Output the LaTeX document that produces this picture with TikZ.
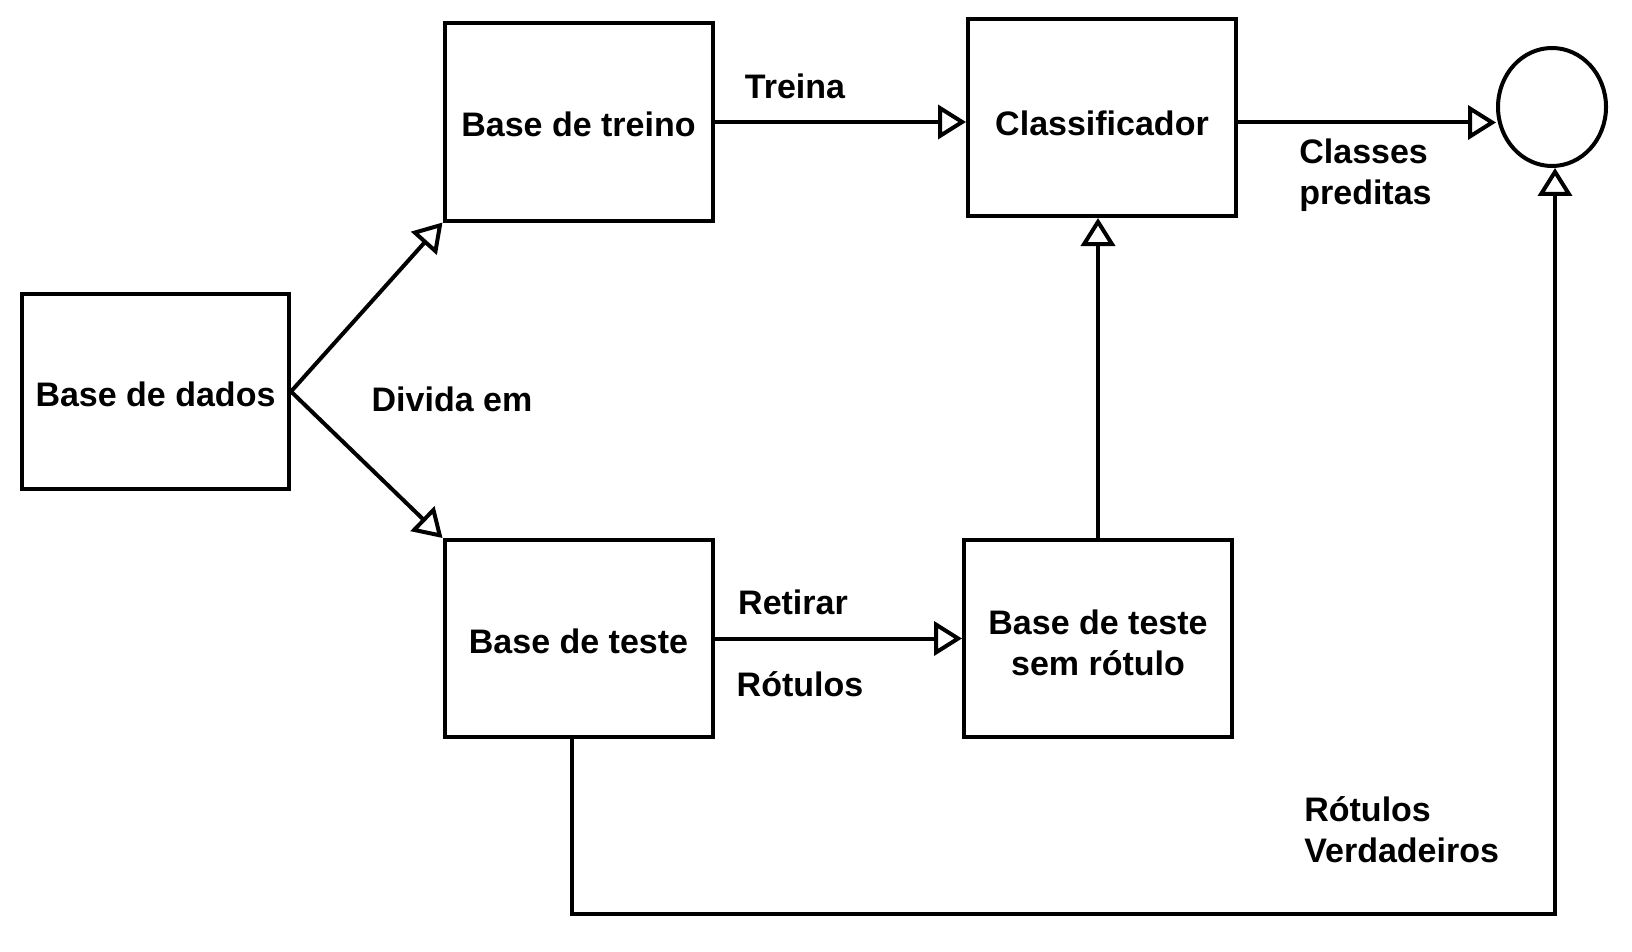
\documentclass[tikz,border=0pt]{standalone}
\usepackage{fontspec}
\setmainfont{Liberation Sans}
\usetikzlibrary{arrows.meta,shapes.geometric}

\tikzset{
    blk/.style={draw, minimum width=268pt, minimum height=197pt, align=center, inner sep=0pt},
    umalinha/.style={text height=30pt},
    seta/.style={-{Triangle[open, length=28pt, width=34pt]}}
}

\begin{document}
\begin{tikzpicture}[x=1pt, y=-1pt, line width=4pt, font=\fontsize{34}{41}\selectfont\bfseries]
    \useasboundingbox (0,0) rectangle (1632,952);

    % Blocks
    \node[blk, umalinha, minimum width=267pt, minimum height=195pt] (dados) at (155.5,391.5) {Base de dados};
    \node[blk, umalinha] (treino) at (578.5,122) {Base de treino};
    \node[blk, text height=36pt] (classif) at (1102,117.5) {Classificador};
    \node[blk, umalinha] (teste) at (578.5,638.5) {Base de teste};
    \node[blk, text height=74pt, text depth=0pt] (semrot) at (1098,638.5) {Base de teste\\sem rótulo};
    \node[draw, ellipse, inner sep=0pt, minimum width=108pt, minimum height=118pt] (saida) at (1552,107) {};

    % Connectors
    \draw[seta] (dados.east) -- (treino.south west);
    \draw[seta] (dados.east) -- (teste.north west);
    \draw[seta] (treino.east) -- (treino.east -| classif.west);
    \coordinate (cl) at ([yshift=-5pt]classif.east);
    \draw[seta] (cl) -- (cl -| saida.west);
    \draw[seta] (teste.east) -- (teste.east -| semrot.west);
    \draw[seta] (semrot.north) -- (semrot.north |- classif.south);
    \coordinate (ts) at ([xshift=-6.5pt]teste.south);
    \coordinate (fundo) at (1555,914);
    \draw[seta] (ts) |- (fundo) -- (fundo |- saida.south);

    % Labels
    \node (treina) at (795,86) {Treina};
    \node (divida) at (452,399) {Divida em};
    \node[anchor=west, align=left] (classes) at (1294,175) {Classes\\preditas};
    \node (retirar) at (793,602) {Retirar};
    \node (rotulos) at (800,684) {Rótulos};
    \node[anchor=west, align=left] (verdad) at (1299,830) {Rótulos\\Verdadeiros};
\end{tikzpicture}
\end{document}
